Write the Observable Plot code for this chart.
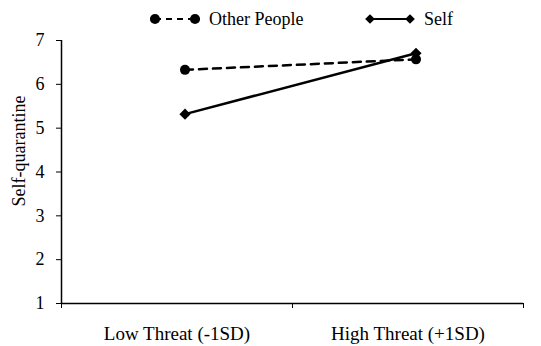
<!DOCTYPE html>
<html>
<head>
<meta charset="utf-8">
<script src="https://cdn.jsdelivr.net/npm/d3@7"></script>
<script src="https://cdn.jsdelivr.net/npm/@observablehq/plot@0.6"></script>
<style>
  body { margin: 0; background: #fff; font-family: "Liberation Serif", "Times New Roman", Times, "DejaVu Serif", serif; }
  #legend { position: relative; height: 30px; width: 541px; font-size: 18px; color: #000; }
  #legend .item { position: absolute; top: 9px; display: flex; align-items: center; }
  #legend svg { display: block; }
  #legend span { margin-left: 9px; line-height: 20px; }
  #chart svg, #chart svg text { font-family: "Liberation Serif", "Times New Roman", Times, "DejaVu Serif", serif !important; }
</style>
</head>
<body>
<div id="legend"></div>
<div id="chart"></div>
<script>
const categories = ["Low Threat (-1SD)", "High Threat (+1SD)"];
const seriesNames = ["Other People", "Self"];
const otherPeople = [6.33, 6.57];
const self = [5.32, 6.71];
const yTicks = [1, 2, 3, 4, 5, 6, 7];
const yTitle = "Self-quarantine";

const otherData = categories.map((c, i) => ({series: seriesNames[0], category: c, pos: i + 0.5, value: otherPeople[i]}));
const selfData = categories.map((c, i) => ({series: seriesNames[1], category: c, pos: i + 0.5, value: self[i]}));

// Legend
const legend = document.getElementById("legend");
function addItem(left, name, dashed, symbol) {
  const item = document.createElement("div");
  item.className = "item";
  item.style.left = left + "px";
  const w = 50, h = 20;
  const svg = d3.create("svg").attr("width", w).attr("height", h);
  svg.append("line").attr("x1", 5).attr("x2", w - 5).attr("y1", h / 2).attr("y2", h / 2)
    .attr("stroke", "#000").attr("stroke-width", 2).attr("stroke-dasharray", dashed ? "6,5" : null);
  const sym = d3.symbol().type(symbol).size(symbol === d3.symbolCircle ? 80 : 60);
  [5, w - 5].forEach(x => svg.append("path").attr("d", sym()).attr("transform", `translate(${x},${h / 2})`).attr("fill", "#000"));
  item.appendChild(svg.node());
  const span = document.createElement("span");
  span.textContent = name;
  item.appendChild(span);
  legend.appendChild(item);
}
addItem(150, seriesNames[0], true, d3.symbolCircle);
addItem(365, seriesNames[1], false, d3.symbolDiamond2);

const chart = Plot.plot({
  width: 541,
  height: 316,
  marginLeft: 61,
  marginRight: 18,
  marginTop: 10,
  marginBottom: 43,
  style: {fontSize: "18px", color: "#000", background: "#fff"},
  x: {domain: [0, categories.length], axis: null},
  y: {domain: [1, 7], axis: null},
  marks: [
    Plot.axisY({ticks: yTicks, tickSize: 5, tickPadding: 12, tickFormat: d => String(d), label: null, stroke: "#000", fontSize: 18}),
    Plot.text([yTitle], {frameAnchor: "left", rotate: -90, dx: -42, dy: -21, textAnchor: "middle", fontSize: 18, fill: "#000"}),
    Plot.axisX({ticks: d3.range(categories.length + 1), tickSize: 5, tickFormat: () => "", label: null, stroke: "#000"}),
    Plot.axisX({ticks: categories.map((c, i) => i + 0.5), tickSize: 0, tickPadding: 23, tickFormat: d => categories[Math.floor(d)], label: null, fontSize: 19}),
    Plot.ruleX([0], {stroke: "#000", strokeWidth: 1.5}),
    Plot.ruleY([1], {stroke: "#000", strokeWidth: 1.5}),
    Plot.line(otherData, {x: "pos", y: "value", stroke: "#000", strokeWidth: 2.5, strokeDasharray: "8,6", dx: 8}),
    Plot.line(selfData, {x: "pos", y: "value", stroke: "#000", strokeWidth: 2.5, dx: 8}),
    Plot.dot(otherData, {x: "pos", y: "value", symbol: "circle", r: 5, fill: "#000", dx: 8}),
    Plot.dot(selfData, {x: "pos", y: "value", symbol: "diamond2", r: 5, fill: "#000", dx: 8})
  ]
});
document.getElementById("chart").appendChild(chart);
</script>
</body>
</html>
